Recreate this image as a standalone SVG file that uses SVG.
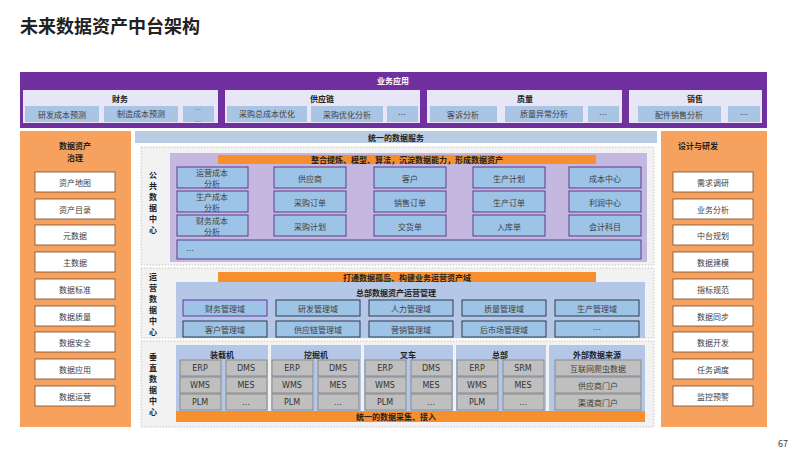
<svg xmlns="http://www.w3.org/2000/svg" width="800" height="450" viewBox="0 0 800 450">
<style>
text{font-family:"Noto Sans CJK SC","Noto Sans",sans-serif;font-size:8px;fill:#404040;text-anchor:middle;dominant-baseline:central}
.b{font-weight:bold;fill:#222}
.w{fill:#fff;font-weight:bold}
.it{fill:#a9c4e4}
.wb{fill:#fff;stroke:#7a4a2a;stroke-width:0.8}
.pb{fill:#9dc3e6;stroke:#5a3d8a;stroke-width:1}
.ob{fill:#9dc3e6;stroke:#2f3a4f;stroke-width:1}
.gb{fill:#bfbfbf;stroke:#7f7f7f;stroke-width:0.8}
.gt{font-family:"DejaVu Sans",sans-serif;fill:#333}
.org{fill:#f78f2e}
.dot{fill:#f2f2f2;stroke:#bbb;stroke-width:0.8;stroke-dasharray:1.5 1.5}
.grp{fill:#b4c7e7}
</style>
<rect width="800" height="450" fill="#fff"/>
<text x="20" y="25" class="b" style="font-size:18px;text-anchor:start">未来数据资产中台架构</text>
<text x="788" y="443" style="font-size:9px;text-anchor:end">67</text>

<g id="biz">
<rect x="20" y="72" width="747" height="56" fill="#7030a0"/>
<text x="393" y="80" class="w">业务应用</text>
<g id="caiwu"><rect x="23" y="90" width="195" height="33" fill="#e6e6f7"/><text x="120" y="98" class="b">财务</text>
<rect x="25" y="106" width="74" height="16" class="it"/><text x="62" y="114">研发成本预测</text>
<rect x="104" y="106" width="74" height="16" class="it"/><text x="141" y="113">制造成本预测</text>
<rect x="183" y="106" width="31" height="16" class="it"/><text x="198" y="109" style="font-size:6px">…</text><text x="198" y="121" style="font-size:6px">…</text></g>
<g id="gyl"><rect x="225" y="90" width="195" height="33" fill="#e6e6f7"/><text x="322" y="98" class="b">供应链</text>
<rect x="227" y="106" width="80" height="16" class="it"/><text x="267" y="113">采购总成本优化</text>
<rect x="311" y="106" width="72" height="16" class="it"/><text x="347" y="114">采购优化分析</text>
<rect x="387" y="106" width="31" height="16" class="it"/><text x="402" y="114">…</text></g>
<g id="zl"><rect x="427" y="90" width="195" height="33" fill="#e6e6f7"/><text x="525" y="98" class="b">质量</text>
<rect x="430" y="106" width="67" height="16" class="it"/><text x="463" y="114">客诉分析</text>
<rect x="505" y="106" width="78" height="16" class="it"/><text x="544" y="113">质量异常分析</text>
<rect x="588" y="106" width="31" height="16" class="it"/><text x="603" y="114">…</text></g>
<g id="xs"><rect x="629" y="90" width="133" height="33" fill="#e6e6f7"/><text x="695" y="98" class="b">销售</text>
<rect x="638" y="106" width="83" height="16" class="it"/><text x="679" y="114">配件销售分析</text>
<rect x="728" y="106" width="32" height="16" class="it"/><text x="744" y="114">…</text></g>
</g>

<g id="gov">
<rect x="20" y="131" width="111" height="296" fill="#f6a25e"/>
<text x="75" y="145" class="b">数据资产</text><text x="75" y="157" class="b">治理</text>
<rect x="35" y="172" width="80" height="20" class="wb"/><text x="75" y="182">资产地图</text>
<rect x="35" y="199" width="80" height="20" class="wb"/><text x="75" y="209">资产目录</text>
<rect x="35" y="225" width="80" height="20" class="wb"/><text x="75" y="235">元数据</text>
<rect x="35" y="252" width="80" height="20" class="wb"/><text x="75" y="262">主数据</text>
<rect x="35" y="279" width="80" height="20" class="wb"/><text x="75" y="289">数据标准</text>
<rect x="35" y="306" width="80" height="20" class="wb"/><text x="75" y="316">数据质量</text>
<rect x="35" y="332" width="80" height="20" class="wb"/><text x="75" y="342">数据安全</text>
<rect x="35" y="359" width="80" height="20" class="wb"/><text x="75" y="369">数据应用</text>
<rect x="35" y="386" width="80" height="20" class="wb"/><text x="75" y="396">数据运营</text>
</g>

<g id="dev">
<rect x="661" y="131" width="106" height="296" fill="#f6a25e"/>
<text x="678" y="145" class="b" style="text-anchor:start">设计与研发</text>
<rect x="673" y="172" width="80" height="20" class="wb"/><text x="713" y="182">需求调研</text>
<rect x="673" y="199" width="80" height="20" class="wb"/><text x="713" y="209">业务分析</text>
<rect x="673" y="225" width="80" height="20" class="wb"/><text x="713" y="235">中台规划</text>
<rect x="673" y="252" width="80" height="20" class="wb"/><text x="713" y="262">数据建模</text>
<rect x="673" y="279" width="80" height="20" class="wb"/><text x="713" y="289">指标规范</text>
<rect x="673" y="306" width="80" height="20" class="wb"/><text x="713" y="316">数据同步</text>
<rect x="673" y="332" width="80" height="20" class="wb"/><text x="713" y="342">数据开发</text>
<rect x="673" y="359" width="80" height="20" class="wb"/><text x="713" y="369">任务调度</text>
<rect x="673" y="386" width="80" height="20" class="wb"/><text x="713" y="396">监控预警</text>
</g>

<g id="svc">
<rect x="135" y="131" width="522" height="12" fill="#b8cce4"/>
<text x="396" y="137" class="b">统一的数据服务</text>
</g>

<g id="pub">
<rect x="141" y="147" width="513" height="118" class="dot"/>
<text x="153" y="174" class="b">公</text><text x="153" y="185" class="b">共</text><text x="153" y="196" class="b">数</text><text x="153" y="207" class="b">据</text><text x="153" y="218" class="b">中</text><text x="153" y="229" class="b">心</text>
<rect x="170" y="153" width="477" height="109" fill="#c5b8e0"/>
<rect x="218" y="155" width="378" height="9" class="org"/>
<text x="407" y="159.5" class="b">整合提炼、模型、算法，沉淀数据能力，形成数据资产</text>
<rect x="177" y="167" width="71" height="21" class="pb"/><text x="212" y="172">运营成本</text><text x="212" y="183">分析</text>
<rect x="177" y="191" width="71" height="21" class="pb"/><text x="212" y="196">生产成本</text><text x="212" y="207">分析</text>
<rect x="177" y="215" width="71" height="21" class="pb"/><text x="212" y="220">财务成本</text><text x="212" y="231">分析</text>
<rect x="274" y="167" width="72" height="21" class="pb"/><text x="310" y="178">供应商</text>
<rect x="274" y="191" width="72" height="21" class="pb"/><text x="310" y="202">采购订单</text>
<rect x="274" y="215" width="72" height="21" class="pb"/><text x="310" y="226">采购计划</text>
<rect x="374" y="167" width="72" height="21" class="pb"/><text x="410" y="178">客户</text>
<rect x="374" y="191" width="72" height="21" class="pb"/><text x="410" y="202">销售订单</text>
<rect x="374" y="215" width="72" height="21" class="pb"/><text x="410" y="226">交货单</text>
<rect x="473" y="167" width="72" height="21" class="pb"/><text x="509" y="178">生产计划</text>
<rect x="473" y="191" width="72" height="21" class="pb"/><text x="509" y="202">生产订单</text>
<rect x="473" y="215" width="72" height="21" class="pb"/><text x="509" y="226">入库单</text>
<rect x="569" y="167" width="72" height="21" class="pb"/><text x="605" y="178">成本中心</text>
<rect x="569" y="191" width="72" height="21" class="pb"/><text x="605" y="202">利润中心</text>
<rect x="569" y="215" width="72" height="21" class="pb"/><text x="605" y="226">会计科目</text>
<rect x="177" y="240" width="464" height="19" class="pb"/><text x="190" y="250">…</text>
</g>

<g id="ops">
<rect x="141" y="268" width="513" height="70" class="dot"/>
<text x="153" y="276" class="b">运</text><text x="153" y="287" class="b">营</text><text x="153" y="298" class="b">数</text><text x="153" y="309" class="b">据</text><text x="153" y="320" class="b">中</text><text x="153" y="331" class="b">心</text>
<rect x="218" y="272" width="378" height="10" class="org"/>
<text x="407" y="277" class="b">打通数据孤岛、构建业务运营资产域</text>
<rect x="176" y="282" width="469" height="56" class="grp"/>
<text x="396" y="292" class="b">总部数据资产运营管理</text>
<rect x="183" y="300" width="84" height="16" class="ob" style="stroke:#7030a0"/><text x="225" y="308">财务管理域</text>
<rect x="276" y="300" width="84" height="16" class="ob"/><text x="318" y="308">研发管理域</text>
<rect x="369" y="300" width="84" height="16" class="ob"/><text x="411" y="308">人力管理域</text>
<rect x="462" y="300" width="84" height="16" class="ob"/><text x="504" y="308">质量管理域</text>
<rect x="555" y="300" width="84" height="16" class="ob"/><text x="597" y="308">生产管理域</text>
<rect x="183" y="321" width="84" height="16" class="ob"/><text x="225" y="329">客户管理域</text>
<rect x="276" y="321" width="84" height="16" class="ob"/><text x="318" y="329">供应链管理域</text>
<rect x="369" y="321" width="84" height="16" class="ob"/><text x="411" y="329">营销管理域</text>
<rect x="462" y="321" width="84" height="16" class="ob"/><text x="504" y="329">后市场管理域</text>
<rect x="555" y="321" width="84" height="16" class="ob"/><text x="597" y="329">…</text>
</g>

<g id="vert">
<rect x="141" y="341" width="513" height="86" class="dot"/>
<text x="153" y="356" class="b">垂</text><text x="153" y="367" class="b">直</text><text x="153" y="378" class="b">数</text><text x="153" y="389" class="b">据</text><text x="153" y="400" class="b">中</text><text x="153" y="411" class="b">心</text>
<g id="zzj"><rect x="176" y="345" width="92" height="66" class="grp"/><text x="222" y="354" class="b">装载机</text>
<rect x="180" y="360" width="41" height="16" class="gb"/><text x="200" y="368" class="gt">ERP</text>
<rect x="226" y="360" width="41" height="16" class="gb"/><text x="246" y="368" class="gt">DMS</text>
<rect x="180" y="377" width="41" height="16" class="gb"/><text x="200" y="385" class="gt">WMS</text>
<rect x="226" y="377" width="41" height="16" class="gb"/><text x="246" y="385" class="gt">MES</text>
<rect x="180" y="394" width="41" height="16" class="gb"/><text x="200" y="402" class="gt">PLM</text>
<rect x="226" y="394" width="41" height="16" class="gb"/><text x="246" y="402" class="gt">…</text></g>
<g id="wjj"><rect x="271" y="345" width="90" height="66" class="grp"/><text x="316" y="354" class="b">挖掘机</text>
<rect x="272" y="360" width="41" height="16" class="gb"/><text x="292" y="368" class="gt">ERP</text>
<rect x="318" y="360" width="41" height="16" class="gb"/><text x="338" y="368" class="gt">DMS</text>
<rect x="272" y="377" width="41" height="16" class="gb"/><text x="292" y="385" class="gt">WMS</text>
<rect x="318" y="377" width="41" height="16" class="gb"/><text x="338" y="385" class="gt">MES</text>
<rect x="272" y="394" width="41" height="16" class="gb"/><text x="292" y="402" class="gt">PLM</text>
<rect x="318" y="394" width="41" height="16" class="gb"/><text x="338" y="402" class="gt">…</text></g>
<g id="cc"><rect x="364" y="345" width="89" height="66" class="grp"/><text x="408" y="354" class="b">叉车</text>
<rect x="365" y="360" width="41" height="16" class="gb"/><text x="385" y="368" class="gt">ERP</text>
<rect x="411" y="360" width="41" height="16" class="gb"/><text x="431" y="368" class="gt">DMS</text>
<rect x="365" y="377" width="41" height="16" class="gb"/><text x="385" y="385" class="gt">WMS</text>
<rect x="411" y="377" width="41" height="16" class="gb"/><text x="431" y="385" class="gt">MES</text>
<rect x="365" y="394" width="41" height="16" class="gb"/><text x="385" y="402" class="gt">PLM</text>
<rect x="411" y="394" width="41" height="16" class="gb"/><text x="431" y="402" class="gt">…</text></g>
<g id="zb"><rect x="456" y="345" width="90" height="66" class="grp"/><text x="500" y="354" class="b">总部</text>
<rect x="457" y="360" width="41" height="16" class="gb"/><text x="477" y="368" class="gt">ERP</text>
<rect x="503" y="360" width="41" height="16" class="gb"/><text x="523" y="368" class="gt">SRM</text>
<rect x="457" y="377" width="41" height="16" class="gb"/><text x="477" y="385" class="gt">WMS</text>
<rect x="503" y="377" width="41" height="16" class="gb"/><text x="523" y="385" class="gt">MES</text>
<rect x="457" y="394" width="41" height="16" class="gb"/><text x="477" y="402" class="gt">PLM</text>
<rect x="503" y="394" width="41" height="16" class="gb"/><text x="523" y="402" class="gt">…</text></g>
<g id="ext"><rect x="549" y="345" width="96" height="66" class="grp"/><text x="597" y="354" class="b">外部数据来源</text>
<rect x="555" y="360" width="86" height="16" class="gb"/><text x="598" y="368">互联网爬虫数据</text>
<rect x="555" y="377" width="86" height="16" class="gb"/><text x="598" y="385">供应商门户</text>
<rect x="555" y="394" width="86" height="16" class="gb"/><text x="598" y="402">渠道商门户</text></g>
<rect x="176" y="411" width="469" height="11" class="org"/>
<text x="396" y="416.5" class="b">统一的数据采集、接入</text>
</g>
</svg>
